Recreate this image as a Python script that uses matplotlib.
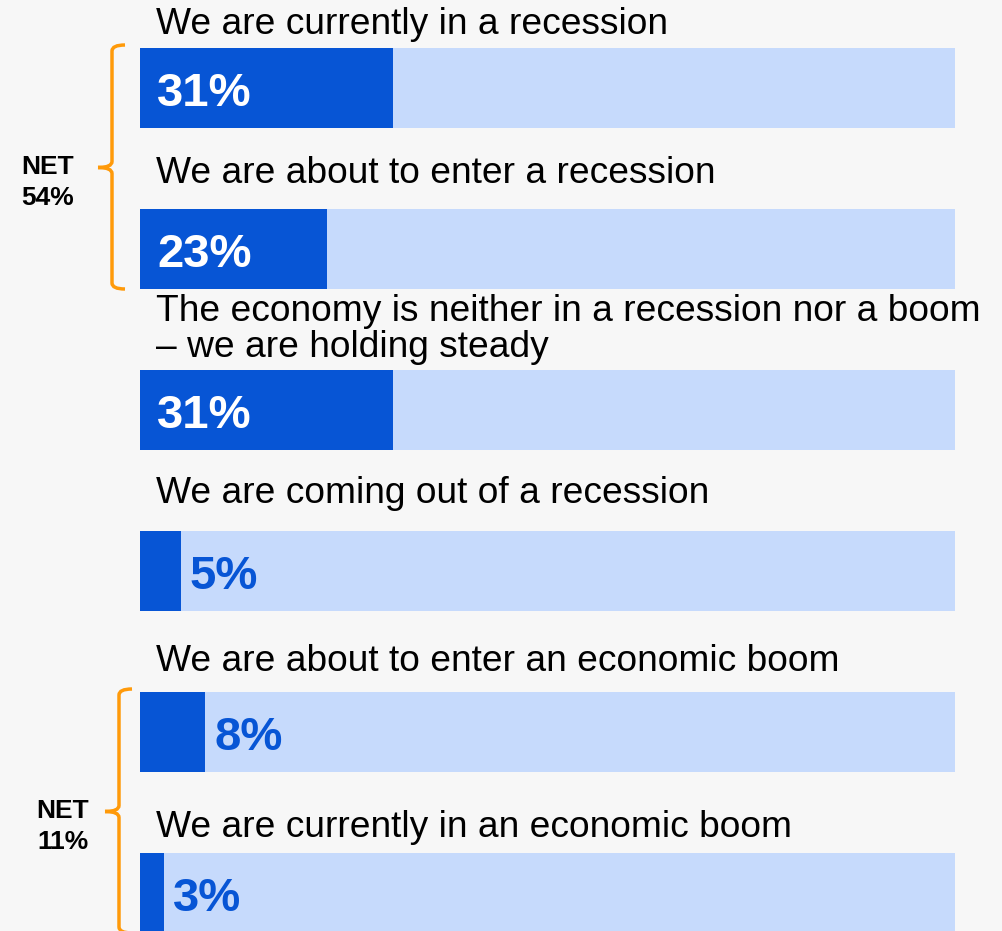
import numpy as np
import matplotlib
matplotlib.use("Agg")
import matplotlib.pyplot as plt
from matplotlib.path import Path
from matplotlib.patches import PathPatch

plt.rcParams['font.family'] = ['Liberation Sans', 'DejaVu Sans']

# survey answers, top to bottom
answers = [
    "We are currently in a recession",
    "We are about to enter a recession",
    "The economy is neither in a recession nor a boom\n\u2013 we are holding steady",
    "We are coming out of a recession",
    "We are about to enter an economic boom",
    "We are currently in an economic boom",
]
shares = [31, 23, 31, 5, 8, 3]

# NET groups: (first row, last row, label)
net_groups = [(0, 1, "NET\n54%"), (4, 5, "NET\n11%")]

# layout (pixels)
W, H = 1002, 931
BAR_X0, BAR_X1 = 140, 955
ROW0, ROW_STEP, BAR_H = 88, 161, 80
label_gap = [14, 26, 13, 28, 21, 16]

BG = '#f7f7f7'
TRACK = '#c6dafc'
FILL = '#0755d5'
ORANGE = '#ff9a0a'

fig = plt.figure(figsize=(W / 100, H / 100), dpi=100, facecolor=BG)
ax = fig.add_axes([BAR_X0 / W, 0, (BAR_X1 - BAR_X0) / W, 1])
ax.set_facecolor(BG)
ax.set_xlim(0, 100)
ax.set_ylim((H - ROW0) / ROW_STEP, -ROW0 / ROW_STEP)
ax.axis('off')

px_x = 100 / (BAR_X1 - BAR_X0)   # data units per pixel, x
px_y = 1 / ROW_STEP               # data units per pixel, y

rows = np.arange(len(answers))
h = BAR_H * px_y
ax.barh(rows, [100] * len(rows), height=h, color=TRACK)
ax.barh(rows, shares, height=h, color=FILL)

for i, (txt, v) in enumerate(zip(answers, shares)):
    ax.text(16 * px_x, i - h / 2 - label_gap[i] * px_y, txt, fontsize=26.7,
            ha='left', va='baseline', color='black', linespacing=1.05)
    if v >= 15:
        ax.text(17 * px_x, i + 6 * px_y, f"{v}%", fontsize=34, fontweight='bold',
                color='white', ha='left', va='center')
    else:
        ax.text(v + 9 * px_x, i + 6 * px_y, f"{v}%", fontsize=34, fontweight='bold',
                color=FILL, ha='left', va='center')


def bracket(x, top, mid, bot, hook, tick, r):
    verts = [
        (x + hook, top), (x, top), (x, top + r),
        (x, mid - r), (x, mid), (x - tick, mid),
        (x - tick, mid), (x, mid), (x, mid + r),
        (x, bot - r), (x, bot), (x + hook, bot),
    ]
    codes = [Path.MOVETO, Path.CURVE3, Path.CURVE3,
             Path.LINETO, Path.CURVE3, Path.CURVE3,
             Path.MOVETO, Path.CURVE3, Path.CURVE3,
             Path.LINETO, Path.CURVE3, Path.CURVE3]
    ax.add_patch(PathPatch(Path(verts, codes), fill=False, edgecolor=ORANGE,
                           lw=2.5, clip_on=False, capstyle='butt'))


bracket_x = [112, 119]
net_x = [48, 63]
for (a, b, lab), bx, nx in zip(net_groups, bracket_x, net_x):
    top = a - h / 2 - 3 * px_y
    bot = b + h / 2
    mid = (a + b) / 2 - 1 * px_y
    x = (bx - BAR_X0) * px_x
    bracket(x, top, mid, bot, 13 * px_x, 14 * px_x, 6 * px_y)
    ax.text((nx - BAR_X0) * px_x, mid - 13 * px_y, lab, fontsize=19,
            fontweight='bold', ha='center', va='top', linespacing=1.42,
            clip_on=False)

fig.savefig('out.png', dpi=100, facecolor=BG)
